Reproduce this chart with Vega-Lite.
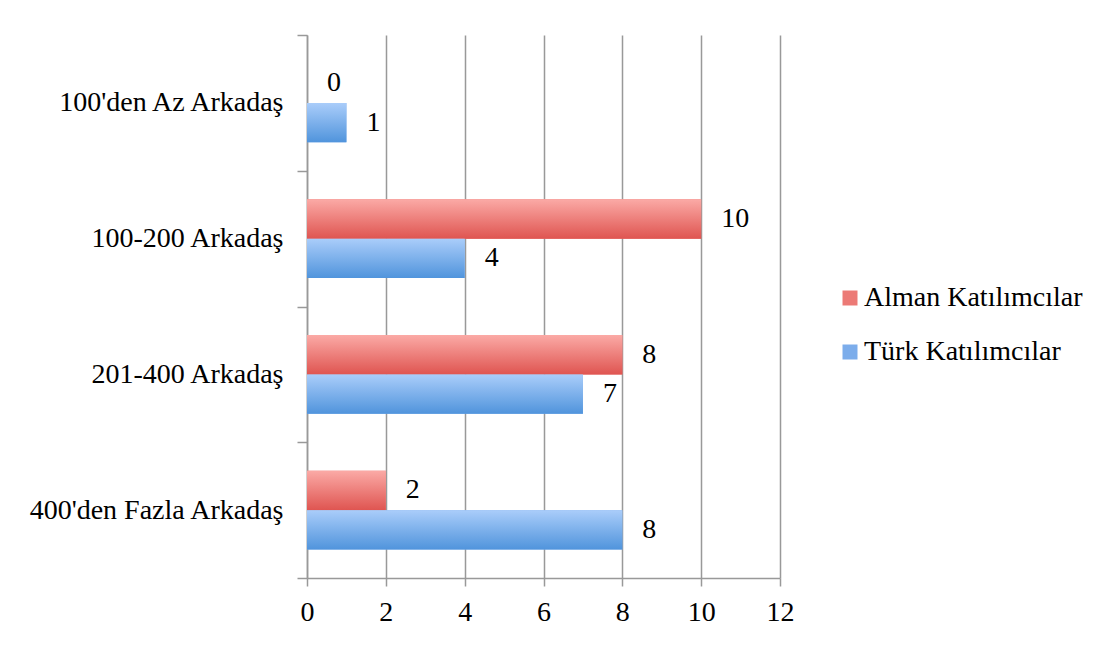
{
  "$schema": "https://vega.github.io/schema/vega-lite/v6.json",
  "width": 473,
  "height": 543,
  "autosize": {"type": "none"},
  "padding": {"left": 307, "top": 35, "right": 329, "bottom": 70},
  "background": "white",
  "config": {
    "view": {"stroke": null},
    "font": "Liberation Serif"
  },
  "data": {
    "values": [
      {"grup": "100'den Az Arkadaş", "seri": "Alman Katılımcılar", "deger": 0},
      {"grup": "100'den Az Arkadaş", "seri": "Türk Katılımcılar", "deger": 1},
      {"grup": "100-200 Arkadaş", "seri": "Alman Katılımcılar", "deger": 10},
      {"grup": "100-200 Arkadaş", "seri": "Türk Katılımcılar", "deger": 4},
      {"grup": "201-400 Arkadaş", "seri": "Alman Katılımcılar", "deger": 8},
      {"grup": "201-400 Arkadaş", "seri": "Türk Katılımcılar", "deger": 7},
      {"grup": "400'den Fazla Arkadaş", "seri": "Alman Katılımcılar", "deger": 2},
      {"grup": "400'den Fazla Arkadaş", "seri": "Türk Katılımcılar", "deger": 8}
    ]
  },
  "encoding": {
    "y": {
      "field": "grup",
      "type": "nominal",
      "sort": null,
      "title": null,
      "scale": {"paddingInner": 0, "paddingOuter": 0},
      "axis": {
        "tickBand": "extent",
        "tickSize": 10,
        "tickColor": "#999999",
        "tickWidth": 1.5,
        "domainColor": "#999999",
        "domainWidth": 1.5,
        "labelFontSize": 28,
        "labelColor": "black",
        "labelPadding": 14,
        "labelLimit": 320
      }
    },
    "yOffset": {
      "field": "seri",
      "type": "nominal",
      "sort": ["Alman Katılımcılar", "Türk Katılımcılar"],
      "scale": {"paddingInner": 0, "paddingOuter": 0.72}
    },
    "x": {
      "field": "deger",
      "type": "quantitative",
      "title": null,
      "scale": {"domain": [0, 12], "nice": false},
      "axis": {
        "values": [0, 2, 4, 6, 8, 10, 12],
        "grid": true,
        "gridColor": "#999999",
        "gridWidth": 1.5,
        "tickColor": "#999999",
        "tickWidth": 1.5,
        "tickSize": 8,
        "domainColor": "#999999",
        "domainWidth": 1.5,
        "labelFlush": false,
        "labelFontSize": 28,
        "labelColor": "black",
        "labelPadding": 12
      }
    }
  },
  "layer": [
    {
      "mark": {"type": "bar"},
      "encoding": {
        "fill": {
          "field": "seri",
          "type": "nominal",
          "sort": ["Alman Katılımcılar", "Türk Katılımcılar"],
          "scale": {"range": ["#EC7A76", "#7CADEB"]},
          "legend": {
            "title": null,
            "orient": "none",
            "legendX": 529,
            "legendY": 249,
            "symbolType": "square",
            "symbolSize": 225,
            "symbolStrokeWidth": 0,
            "symbolOpacity": 1,
            "labelOffset": 0,
            "rowPadding": 26,
            "labelFontSize": 28,
            "labelColor": "black",
            "labelLimit": 320
          }
        }
      }
    },
    {
      "mark": {"type": "bar"},
      "encoding": {
        "fill": {
          "condition": {
            "test": "datum.seri === 'Alman Katılımcılar'",
            "value": {
              "gradient": "linear", "x1": 0, "y1": 0, "x2": 0, "y2": 1,
              "stops": [{"offset": 0, "color": "#FBAAA6"}, {"offset": 1, "color": "#DF5551"}]
            }
          },
          "value": {
            "gradient": "linear", "x1": 0, "y1": 0, "x2": 0, "y2": 1,
            "stops": [{"offset": 0, "color": "#AACDFA"}, {"offset": 1, "color": "#5094DC"}]
          }
        }
      }
    },
    {
      "mark": {"type": "text", "align": "left", "baseline": "middle", "dx": 20, "fontSize": 28, "color": "black"},
      "encoding": {
        "text": {"field": "deger", "type": "quantitative"}
      }
    }
  ]
}
